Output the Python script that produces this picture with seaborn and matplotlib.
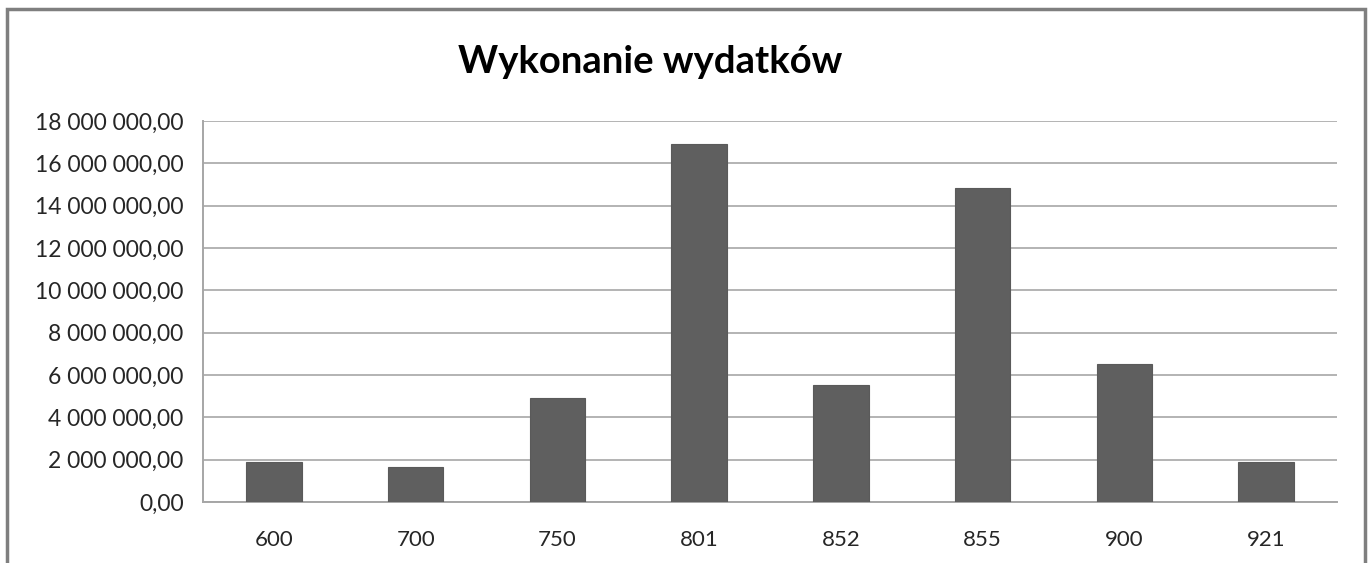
import matplotlib
matplotlib.use("Agg")
import matplotlib.pyplot as plt
import matplotlib.ticker as mticker
from matplotlib.patches import Rectangle
import seaborn as sns
import pandas as pd
import numpy as np

# Dane
kategorie = ["600", "700", "750", "801", "852", "855", "900", "921"]
wydatki = [1_900_000, 1_660_000, 4_910_000, 16_900_000, 5_520_000, 14_830_000, 6_540_000, 1_870_000]

df = pd.DataFrame({"Dzial": kategorie, "Kwota": wydatki})

sns.set_style("white")
plt.rcParams["font.family"] = ["Lato", "DejaVu Sans"]

fig = plt.figure(figsize=(13.71, 5.63), dpi=100)
ax = fig.add_axes([203 / 1371, 61 / 563, (1337 - 203) / 1371, (502 - 121) / 563])

sns.barplot(data=df, x="Dzial", y="Kwota", color="#5f5f5f", width=0.39,
            saturation=1, edgecolor="#5a5a5a", linewidth=0.8, ax=ax, zorder=3)

ax.set_ylim(0, 18_000_000)
ax.set_xlim(-0.5, len(kategorie) - 0.5)
ax.yaxis.set_major_locator(mticker.MultipleLocator(2_000_000))
ax.yaxis.set_major_formatter(mticker.FuncFormatter(
    lambda v, p: f"{v:,.2f}".replace(",", " ").replace(".", ",")))
ax.grid(axis="y", color="#b3b3b3", linewidth=1.4, zorder=0)
ax.set_axisbelow(True)

# ticks między kategoriami, etykiety na środku
ax.set_xticks(np.arange(-0.5, len(kategorie)), minor=False)
ax.set_xticklabels([])
ax.set_xticks(np.arange(len(kategorie)), minor=True)
ax.set_xticklabels(kategorie, minor=True)
ax.tick_params(axis="x", which="major", length=8, width=1.3, color="#a6a6a6", direction="out")
ax.tick_params(axis="x", which="minor", length=0, pad=20, labelsize=16, labelcolor="#262626")
ax.tick_params(axis="y", length=9, width=1.3, color="#a6a6a6", direction="out",
               labelsize=16.5, labelcolor="#262626", pad=5)
ax.set_xlabel("")
ax.set_ylabel("")

for s in ["top", "right"]:
    ax.spines[s].set_visible(False)
for s in ["left", "bottom"]:
    ax.spines[s].set_color("#a6a6a6")
    ax.spines[s].set_linewidth(1.4)

fig.text(650 / 1371, 1 - 62 / 563, "Wykonanie wydatków", ha="center", va="center",
         fontsize=27.5, fontweight="bold", color="black")

# ramka wykresu
fig.patches.append(Rectangle((7 / 1371, -0.1), (1365 - 7) / 1371, 1.1 - 9 / 563,
                             transform=fig.transFigure, fill=False,
                             edgecolor="#7f7f7f", linewidth=2.5))

fig.savefig("out.png", dpi=100, facecolor="white")
